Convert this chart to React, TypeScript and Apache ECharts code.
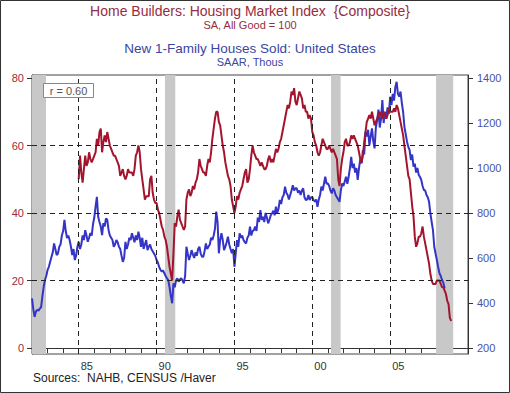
import React, { useEffect, useRef } from "react";
import * as echarts from "echarts";

// New 1-Family Houses Sold (SAAR, Thous), monthly from Jan 1982
const salesStartYear = 1982;
const salesValues: number[] = [
  // 1982
  421, 372, 338, 362, 369, 366, 375, 381, 430, 472, 502, 520,
  // 1983
  547, 561, 583, 605, 625, 665, 640, 613, 620, 650, 660, 700,
  // 1984
  720, 769, 720, 689, 700, 680, 650, 613, 640, 591, 610, 650,
  // 1985
  672, 640, 660, 700, 680, 724, 700, 672, 690, 711, 700, 750,
  // 1986
  780, 830, 872, 783, 760, 740, 702, 755, 740, 776, 770, 724,
  // 1987
  700, 690, 680, 650, 660, 680, 670, 650, 640, 610, 583, 600,
  // 1988
  672, 640, 660, 690, 680, 710, 690, 670, 700, 680, 717, 690,
  // 1989
  650, 690, 640, 660, 680, 635, 650, 660, 640, 630, 620, 610,
  // 1990
  591, 580, 560, 547, 540, 545, 532, 520, 510, 502, 470, 430,
  // 1991
  399, 488, 470, 500, 510, 495, 505, 510, 500, 488, 520, 650,
  // 1992
  620, 591, 610, 635, 615, 600, 625, 610, 640, 650, 620, 606,
  // 1993
  606, 630, 665, 640, 650, 660, 690, 680, 700, 730, 806, 760,
  // 1994
  621, 680, 710, 680, 635, 650, 670, 695, 660, 640, 621, 640,
  // 1995
  561, 620, 680, 650, 710, 690, 700, 680, 670, 665, 690, 700,
  // 1996
  739, 700, 720, 724, 740, 720, 780, 760, 813, 770, 783, 760,
  // 1997
  800, 780, 754, 770, 790, 798, 810, 790, 828, 800, 820, 858,
  // 1998
  840, 870, 880, 917, 890, 880, 860, 880, 900, 924, 900, 910,
  // 1999
  910, 890, 900, 880, 900, 910, 870, 858, 860, 880, 858, 870,
  // 2000
  870, 858, 850, 860, 828, 860, 880, 917, 900, 930, 961, 930,
  // 2001
  932, 920, 900, 887, 910, 900, 880, 870, 860, 850, 900, 932,
  // 2002
  920, 940, 961, 930, 960, 1000, 1050, 1000, 1020, 980, 1000, 947,
  // 2003
  1000, 1040, 1020, 1080, 1060, 1161, 1140, 1170, 1102, 1140, 1176, 1120,
  // 2004
  1087, 1180, 1213, 1260, 1180, 1220, 1302, 1200, 1250, 1220, 1270, 1240,
  // 2005
  1317, 1280, 1330, 1300, 1360, 1383, 1330, 1317, 1340, 1290, 1250, 1183,
  // 2006
  1150, 1117, 1094, 1080, 1035, 1060, 1006, 1020, 980, 1000, 970, 960,
  // 2007
  947, 920, 902, 900, 880, 870, 850, 799, 760, 724, 650, 620,
  // 2008
  591, 560, 532, 520, 502, 490, 465,
];

// NAHB Housing Market Index (SA, All Good = 100), monthly from Jan 1985
const hmiStartYear = 1985;
const hmiValues: number[] = [
  // 1985
  50, 57, 52, 49, 53, 57, 54, 55, 58, 56, 55, 56,
  // 1986
  57, 58, 62, 60, 64, 65, 58, 61, 63, 61, 64, 62,
  // 1987
  60, 59, 58, 57, 57, 56, 55, 54, 51, 52, 53, 51,
  // 1988
  50, 51, 53, 52, 52, 52, 51, 53, 57, 58, 60, 58,
  // 1989
  53, 50, 47, 44, 45, 45, 45, 50, 51, 46, 44, 43,
  // 1990
  43, 41, 40, 38, 36, 35, 33, 32, 30, 27, 24, 22,
  // 1991
  20, 28, 37, 36, 39, 41, 38, 37, 36, 35, 36, 44,
  // 1992
  46, 47, 45, 46, 48, 47, 49, 50, 52, 56, 54, 53,
  // 1993
  52, 52, 51, 54, 56, 55, 58, 62, 65, 68, 70, 70,
  // 1994
  67, 66, 63, 60, 58, 55, 53, 51, 50, 48, 44, 42,
  // 1995
  40, 42, 45, 44, 46, 47, 48, 50, 52, 53, 49, 50,
  // 1996
  53, 57, 60, 58, 57, 56, 56, 55, 54, 55, 54, 53,
  // 1997
  53, 54, 56, 57, 55, 56, 55, 57, 59, 58, 59, 61,
  // 1998
  62, 64, 66, 68, 70, 72, 71, 73, 76, 75, 77, 73,
  // 1999
  72, 74, 76, 75, 74, 71, 72, 70, 70, 68, 69, 68,
  // 2000
  64, 63, 61, 60, 58, 57, 58, 60, 62, 61, 60, 59,
  // 2001
  59, 60, 59, 58, 59, 58, 57, 56, 50, 48, 53, 56,
  // 2002
  58, 61, 62, 60, 60, 61, 63, 62, 63, 62, 61, 60,
  // 2003
  58, 56, 55, 57, 61, 64, 67, 68, 69, 68, 70, 68,
  // 2004
  66, 67, 68, 69, 70, 69, 68, 70, 69, 68, 69, 71,
  // 2005
  70, 70, 70, 71, 70, 72, 71, 69, 67, 65, 63, 60,
  // 2006
  57, 54, 51, 50, 46, 42, 39, 33, 30, 31, 33, 33,
  // 2007
  34, 36, 33, 31, 29, 27, 25, 22, 20, 19, 19, 19,
  // 2008
  20, 20, 20, 19, 18, 18, 17, 16, 14, 13, 9, 8,
];

// Recession shading (visible part, decimal years)
const recessionStarts = [1982.0, 1990.54, 2001.2, 2007.95];
const recessionEnds = [1982.9, 1991.2, 2001.82, 2009.05];

const xGridYears = [1985, 1990, 1995, 2000, 2005];
const yGridValues = [20, 40, 60];
const leftTickValues = [0, 20, 40, 60, 80];
const rightTickValues = [200, 400, 600, 800, 1000, 1200, 1400];

const titleLines = [
  "Home Builders: Housing Market Index  {Composite}",
  "SA, All Good = 100",
  "New 1-Family Houses Sold: United States",
  "SAAR, Thous",
];
const sourceText = "Sources:  NAHB, CENSUS /Haver";
const corrText = "r = 0.60";

const FONT = '"Liberation Sans", Arial, sans-serif';
const RED = "#a3152f";
const BLUE = "#3434c6";

function toPairs(start: number, vals: number[]) {
  return vals.map((v, i) => [start + i / 12, v]);
}

export default function App() {
  const ref = useRef<HTMLDivElement>(null);
  useEffect(() => {
    if (!ref.current) return;
    const chart = echarts.init(ref.current, null, { renderer: "svg" });
    const option: any = {
      animation: false,
      backgroundColor: "#ffffff",
      grid: {
        left: 32,
        right: 42,
        top: 75,
        bottom: 39,
        show: true,
        borderColor: "#444",
        borderWidth: 1,
        backgroundColor: "transparent",
      },
      xAxis: {
        type: "value",
        min: 1982,
        max: 2010,
        interval: 1,
        axisLine: { show: true, lineStyle: { color: "#333", width: 1 } },
        axisTick: { show: true, length: 5, lineStyle: { color: "#333" } },
        splitLine: { show: false },
        axisLabel: {
          color: "#333",
          fontSize: 11,
          fontFamily: FONT,
          margin: 6,
          align: "left",
          padding: [0, 0, 0, 2],
          formatter: (v: number) =>
            v % 5 === 0 && v < 2010 ? String(v % 100).padStart(2, "0") : "",
        },
      },
      yAxis: [
        {
          type: "value",
          position: "left",
          min: -1.78,
          max: 80.9,
          axisLine: { show: true, lineStyle: { color: "#333" } },
          axisTick: {
            show: true,
            length: 5,
            customValues: leftTickValues,
            lineStyle: { color: "#333" },
          },
          axisLabel: {
            customValues: leftTickValues,
            color: "#9b2a3c",
            fontSize: 11,
            fontFamily: FONT,
            margin: 8,
            formatter: (v: number) => String(v),
          },
          splitLine: { show: false },
        },
        {
          type: "value",
          position: "right",
          min: 200 - 1.78 * 15,
          max: 200 + 80.9 * 15,
          axisLine: { show: true, lineStyle: { color: "#333" } },
          axisTick: {
            show: true,
            length: 5,
            customValues: rightTickValues,
            lineStyle: { color: "#333" },
          },
          axisLabel: {
            customValues: rightTickValues,
            color: "#4a52a6",
            fontSize: 11,
            fontFamily: FONT,
            margin: 9,
            formatter: (v: number) => String(v),
          },
          splitLine: { show: false },
        },
      ],
      series: [
        {
          type: "line",
          name: "guides",
          data: [],
          xAxisIndex: 0,
          yAxisIndex: 0,
          z: 1,
          silent: true,
          markArea: {
            silent: true,
            itemStyle: { color: "#c8c8c8" },
            label: { show: false },
            data: recessionStarts.map((s, i) => [
              { xAxis: s },
              { xAxis: recessionEnds[i] },
            ]),
          },
          markLine: {
            silent: true,
            symbol: "none",
            label: { show: false },
            lineStyle: { color: "#222", type: [5, 4], width: 1 },
            data: [
              ...xGridYears.map((y) => ({ xAxis: y })),
              ...yGridValues.map((v) => ({ yAxis: v })),
            ],
          },
        },
        {
          type: "line",
          name: "New 1-Family Houses Sold",
          yAxisIndex: 1,
          data: toPairs(salesStartYear, salesValues),
          showSymbol: false,
          z: 3,
          lineStyle: { color: BLUE, width: 2 },
          itemStyle: { color: BLUE },
        },
        {
          type: "line",
          name: "Housing Market Index",
          yAxisIndex: 0,
          data: toPairs(hmiStartYear, hmiValues),
          showSymbol: false,
          z: 4,
          lineStyle: { color: RED, width: 2 },
          itemStyle: { color: RED },
        },
      ],
      graphic: [
        {
          type: "rect",
          shape: { x: 0.5, y: 0.5, width: 509, height: 392 },
          style: { fill: "none", stroke: "#333", lineWidth: 1 },
          silent: true,
        },
        {
          type: "text",
          x: 250,
          y: 11,
          style: {
            text: titleLines[0],
            textAlign: "center",
            textVerticalAlign: "middle",
            fontSize: 14,
            fontFamily: FONT,
            fill: "#962d3e",
          },
        },
        {
          type: "text",
          x: 250,
          y: 24.5,
          style: {
            text: titleLines[1],
            textAlign: "center",
            textVerticalAlign: "middle",
            fontSize: 11,
            fontFamily: FONT,
            fill: "#962d3e",
          },
        },
        {
          type: "text",
          x: 250,
          y: 48.5,
          style: {
            text: titleLines[2],
            textAlign: "center",
            textVerticalAlign: "middle",
            fontSize: 13.5,
            fontFamily: FONT,
            fill: "#3b46a0",
          },
        },
        {
          type: "text",
          x: 250,
          y: 61.5,
          style: {
            text: titleLines[3],
            textAlign: "center",
            textVerticalAlign: "middle",
            fontSize: 11,
            fontFamily: FONT,
            fill: "#3b46a0",
          },
        },
        {
          type: "rect",
          z: 10,
          shape: { x: 43.5, y: 83.5, width: 50, height: 14 },
          style: { fill: "#ffffff", stroke: "#888", lineWidth: 1 },
        },
        {
          type: "text",
          z: 11,
          x: 68.5,
          y: 91,
          style: {
            text: corrText,
            textAlign: "center",
            textVerticalAlign: "middle",
            fontSize: 11,
            fontFamily: FONT,
            fill: "#555",
          },
        },
        {
          type: "text",
          x: 33,
          y: 378,
          style: {
            text: sourceText,
            textAlign: "left",
            textVerticalAlign: "middle",
            fontSize: 12,
            fontFamily: FONT,
            fill: "#222",
          },
        },
      ],
    };
    chart.setOption(option);
    return () => chart.dispose();
  }, []);
  return (
    <div
      ref={ref}
      style={{ position: "absolute", left: 0, top: 0, width: 510, height: 393 }}
    />
  );
}
